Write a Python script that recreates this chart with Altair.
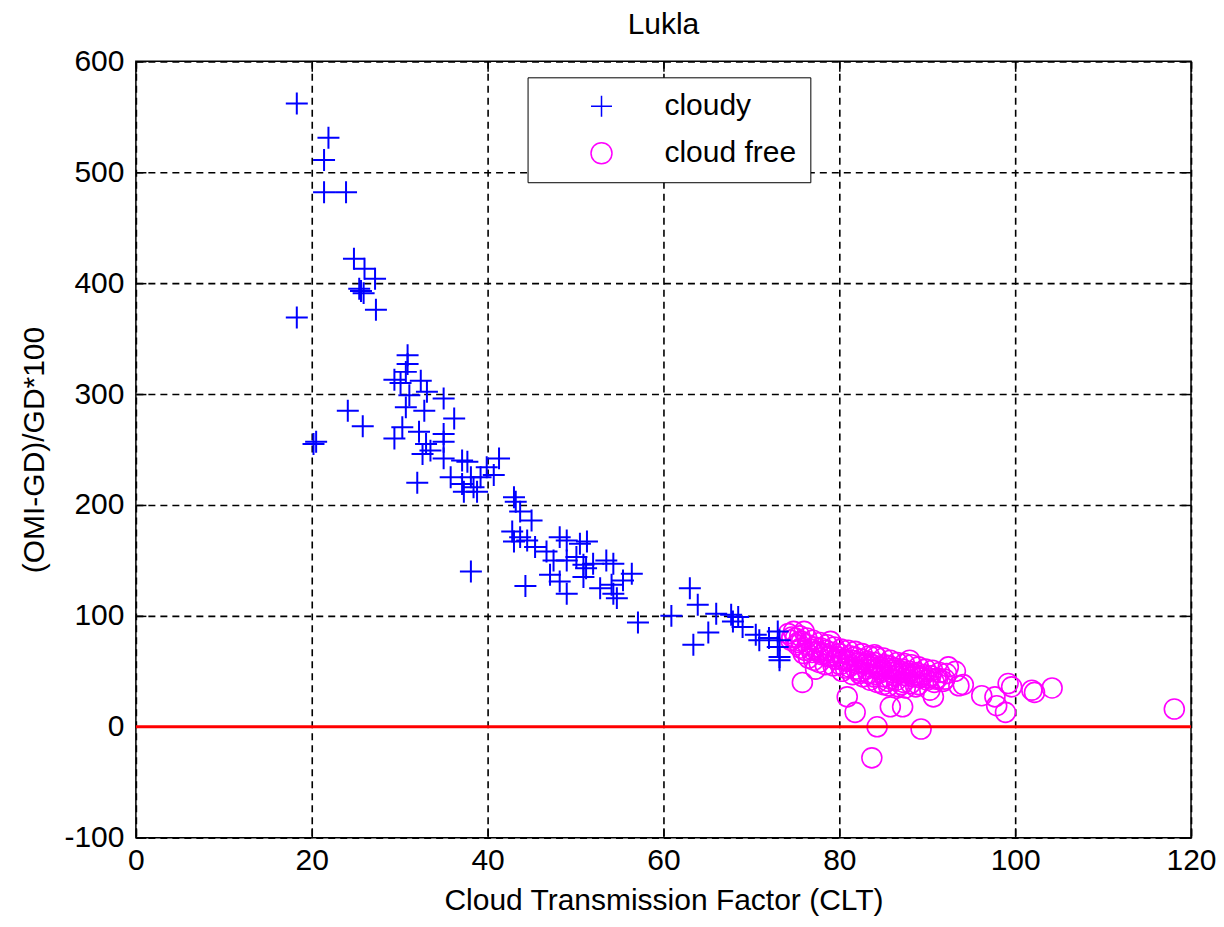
import altair as alt
import pandas as pd

# ---- data ----
cloudy_x = [18.3, 21.9, 21.4, 21.4, 23.9, 24.8, 26.0, 27.2, 25.6, 25.9, 25.4, 27.3, 18.3, 20.2, 20.5, 24.1, 25.8,
            30.9, 30.9, 30.7, 29.4, 30.1, 32.4, 33.1, 31.1, 35.0, 30.7, 32.8, 36.2, 30.3, 29.4, 32.2, 33.0, 35.0,
            35.0, 32.6, 33.5, 35.0, 32.0, 37.1, 37.7, 41.3, 35.8, 37.1, 38.1, 38.4, 39.2, 39.9, 40.7, 37.3, 38.8, 38.1,
            43.0, 43.2, 43.7, 45.0, 42.8, 43.7, 43.0, 44.5, 45.4, 46.7, 44.3, 48.2, 49.0, 50.5, 51.3, 47.5, 49.0,
            50.1, 50.9, 51.2, 52.0, 53.5, 54.3, 47.1, 48.2, 49.0, 50.9, 52.8, 54.3, 54.7, 55.4, 56.4, 57.1,
            54.1, 60.9, 63.0, 63.9, 65.1, 63.4, 66.0, 67.7, 67.9, 68.5, 69.0, 70.5, 70.9, 72.0, 73.0, 73.2, 73.0,
            73.2, 73.2]
cloudy_y = [562, 531, 511, 482, 482, 422, 413, 404, 393, 391, 395, 376, 369, 255, 257, 285, 271,
            335, 327, 320, 313, 310, 312, 302, 299, 296, 288, 285, 278, 270, 260, 266, 255, 264,
            257, 246, 249, 242, 220, 240, 239, 242, 225, 219, 225, 216, 225, 234, 227, 212, 212, 140,
            207, 203, 194, 186, 176, 171, 167, 168, 162, 158, 127, 171, 168, 165, 167, 150, 150,
            153, 146, 143, 147, 150, 147, 137, 131, 120, 135, 125, 120, 116, 132, 138, 94,
            128, 100, 125, 110, 85, 74, 102, 101, 95, 99, 90, 83, 78, 80, 86, 78, 72,
            63, 60]

free_x = [74.2, 74.5, 74.8, 75.0, 75.2, 75.5, 75.7, 75.6, 75.9, 76.3, 76.4, 76.1, 76.5, 77.0, 77.2, 76.9, 77.1,
          77.3, 77.8, 77.9, 78.0, 77.7, 78.6, 78.5, 78.8, 78.4, 79.4, 79.2, 79.6, 79.3, 80.2, 80.0, 80.4, 80.1,
          80.3, 81.0, 81.2, 80.9, 81.1, 81.8, 81.7, 82.0, 81.9, 82.6, 82.5, 82.8, 82.4, 82.7, 83.4, 83.2, 83.6,
          83.3, 83.5, 84.2, 84.0, 84.4, 84.1, 84.3, 85.0, 85.2, 84.9, 85.1, 85.0, 85.8, 85.7, 86.0, 85.9, 85.6,
          86.6, 86.4, 86.8, 86.5, 86.7, 87.4, 87.2, 87.6, 87.3, 87.5, 88.2, 88.0, 88.4, 88.1, 89.0, 88.8, 89.2,
          89.0, 89.8, 89.6, 90.0, 90.6, 90.4, 90.8, 91.4, 91.2, 92.2, 92.0, 92.4, 93.2, 88.0, 84.0, 79.0, 76.0,
          74.6, 75.3, 76.8, 77.5, 78.2, 78.9, 79.8, 80.6, 81.4, 82.2, 83.0, 83.8, 84.6, 85.4, 86.2, 87.0, 87.8,
          88.6, 89.4, 90.2, 91.0, 91.8, 80.7, 82.3, 83.9, 85.5, 87.1, 88.7, 90.3, 86.3, 84.8, 83.1, 81.5,
          75.8, 80.9, 81.8, 84.3, 83.7, 85.8, 87.2, 89.3, 90.7, 93.6, 94.1, 96.2, 97.7, 97.9, 98.9, 99.6, 99.2,
          101.9, 102.2, 104.2, 118.1]
free_y = [84, 78, 86, 80, 74, 82, 77, 71, 66, 80, 74, 69, 62, 78, 72, 67, 60,
          52, 76, 71, 65, 58, 74, 69, 63, 56, 72, 67, 61, 55, 70, 66, 60, 56,
          50, 69, 64, 59, 54, 68, 63, 57, 52, 66, 61, 56, 50, 45, 64, 59, 54,
          48, 42, 63, 58, 52, 47, 40, 62, 56, 51, 45, 38, 60, 55, 49, 43, 37,
          58, 53, 48, 42, 36, 57, 52, 46, 40, 35, 56, 50, 45, 39, 54, 49, 44,
          38, 52, 47, 42, 51, 46, 40, 49, 44, 48, 43, 54, 50, 60, 65, 77, 86,
          81, 76, 70, 68, 66, 64, 63, 61, 60, 58, 57, 56, 54, 53, 51, 50, 48,
          47, 45, 44, 43, 41, 53, 48, 45, 41, 38, 36, 33, 46, 49, 52, 47,
          40, 27, 13, 0, -28, 18, 18, -2, 27, 37, 38, 28, 27, 19, 13, 36, 39,
          33, 31, 35, 16]

series_names = ["cloudy", "cloud free"]
zero_level = [0]
x_ticks = [0, 20, 40, 60, 80, 100, 120]
y_ticks = [-100, 0, 100, 200, 300, 400, 500, 600]
x_domain = [0, 120]
y_domain = [-100, 600]

df = pd.DataFrame({
    "x": cloudy_x + free_x,
    "y": cloudy_y + free_y,
    "series": [series_names[0]] * len(cloudy_x) + [series_names[1]] * len(free_x),
})
zero_df = pd.DataFrame({"y": zero_level})

W, H = 1056, 777
FONT = "Liberation Sans"
CROSS = "M-1,0L1,0M0,-1L0,1"

xscale = alt.Scale(domain=x_domain, nice=False, zero=False)
yscale = alt.Scale(domain=y_domain, nice=False, zero=False)

legend = alt.Legend(orient="none", legendX=392, legendY=16, title=None)
color = alt.Color("series:N", scale=alt.Scale(domain=series_names, range=["#0000ff", "#ff00ff"]), legend=legend)
shape = alt.Shape("series:N", scale=alt.Scale(domain=series_names, range=[CROSS, "circle"]), legend=legend)

main_x = alt.Axis(orient="bottom", values=x_ticks, grid=True, ticks=False, domain=False,
                  labelFlush=False, labelExpr="toString(datum.value)",
                  title="Cloud Transmission Factor (CLT)", labelPadding=8, titlePadding=10)
main_y = alt.Axis(orient="left", values=y_ticks, grid=True, ticks=False, domain=False,
                  labelFlush=False, labelExpr="toString(datum.value)",
                  title="(OMI-GD)/GD*100", labelPadding=12, titlePadding=14)

tick_common = dict(labels=False, ticks=True, tickSize=10, tickWidth=1.5, tickColor="black",
                   domain=False, grid=False, title=None)

base = alt.Chart(df)

free_layer = base.transform_filter(alt.datum.series == "cloud free").mark_point(
    filled=False, size=400, strokeWidth=1.6, opacity=1
).encode(
    x=alt.X("x:Q", scale=xscale, axis=main_x),
    y=alt.Y("y:Q", scale=yscale, axis=main_y),
    color=color, shape=shape,
)

cloudy_layer = base.transform_filter(alt.datum.series == "cloudy").mark_point(
    filled=False, size=484, strokeWidth=2, opacity=1
).encode(
    x=alt.X("x:Q", scale=xscale, axis=alt.Axis(orient="top", offset=-H, values=x_ticks, **tick_common)),
    y=alt.Y("y:Q", scale=yscale, axis=alt.Axis(orient="right", offset=-W, values=y_ticks, **tick_common)),
    color=color, shape=shape,
)

ghost_layer = base.mark_point(opacity=0).encode(
    x=alt.X("x:Q", scale=xscale, axis=alt.Axis(orient="bottom", offset=-H, values=x_ticks, **tick_common)),
    y=alt.Y("y:Q", scale=yscale, axis=alt.Axis(orient="left", offset=-W, values=y_ticks, **tick_common)),
)

zero_layer = alt.Chart(zero_df).mark_rule(color="#ff0000", strokeWidth=3).encode(
    y=alt.Y("y:Q", scale=yscale, axis=None)
)

chart = alt.layer(free_layer, cloudy_layer, ghost_layer, zero_layer).resolve_axis(
    x="independent", y="independent"
).properties(
    width=W, height=H,
    title=alt.Title("Lukla", fontSize=30, font=FONT, fontWeight="normal", color="black", offset=6),
    autosize=alt.AutoSizeParams(type="none"),
    padding={"left": 128, "top": 53, "right": 25, "bottom": 80},
).configure_view(
    stroke="black", strokeWidth=1.5
).configure_axis(
    labelFont=FONT, titleFont=FONT, labelFontSize=30, titleFontSize=30,
    labelColor="black", titleColor="black", titleFontWeight="normal",
    gridColor="black", gridDash=[7, 5], gridWidth=1.6, gridOpacity=1,
).configure_legend(
    labelFont=FONT, labelFontSize=30, labelColor="black",
    strokeColor="black", fillColor="white", padding=14, cornerRadius=0,
    symbolSize=441, symbolStrokeWidth=1.5, symbolOffset=45, labelOffset=48, rowPadding=17,
)

chart.save("out.html", embed_options={"renderer": "svg", "actions": False})
